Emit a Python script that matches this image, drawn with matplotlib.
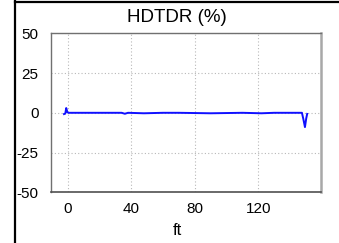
import matplotlib
matplotlib.use("Agg")
import matplotlib.pyplot as plt
from matplotlib.lines import Line2D

plt.rcParams["font.family"] = ["Liberation Sans", "DejaVu Sans"]
plt.rcParams["axes.unicode_minus"] = False

# HDTDR trace (ft vs %)
dist_ft = [-2.3, -1.5, -0.9, -0.2, 0.5, 10, 20, 34, 36, 38, 48, 60, 70, 90, 110,
           122, 130, 140, 146, 147.5, 148.4, 149.4, 150.2, 150.8]
hdtdr = [-0.8, -0.5, 3.0, 0.4, 0.0, 0.0, 0.0, 0.0, -0.6, 0.0, -0.3, 0.0, 0.0, -0.3,
         0.0, -0.3, 0.0, 0.0, 0.0, 0.0, -4.0, -9.0, -3.5, -0.7]
xticks = [0, 40, 80, 120]
yticks = [-50, -25, 0, 25, 50]

fig = plt.figure(figsize=(3.39, 2.43), dpi=100)
ax = fig.add_axes([0.1504, 0.2086, 0.7965, 0.6544])

ax.plot(dist_ft, hdtdr, color="#1010ff", linewidth=1.4)
ax.set_xlim(-10.5, 159.5)
ax.set_ylim(-50, 50)
ax.set_xticks(xticks)
ax.set_yticks(yticks)
ax.tick_params(length=0, labelsize=11, pad=7)
ax.tick_params(axis="y", pad=9)
ax.grid(True, linestyle=(0, (1, 2)), color="#b8b8b8", linewidth=0.8)

for side, col, lw in [("left", "#707070", 1.0), ("top", "#707070", 1.0),
                      ("bottom", "#505050", 1.2), ("right", "#a8a8a8", 1.8)]:
    ax.spines[side].set_color(col)
    ax.spines[side].set_linewidth(lw)

fig.text(0.522, 0.926, "HDTDR (%)", ha="center", va="center", fontsize=13.5)
fig.text(0.522, 0.053, "ft", ha="center", va="center", fontsize=12)

# black frame edges of the panel
fig.add_artist(Line2D([15 / 339, 15 / 339], [0, 1 - 1.5 / 243], color="black", linewidth=1.6))
fig.add_artist(Line2D([15 / 339, 1], [1 - 2 / 243, 1 - 2 / 243], color="black", linewidth=1.6))

fig.savefig("out.png", dpi=100)
